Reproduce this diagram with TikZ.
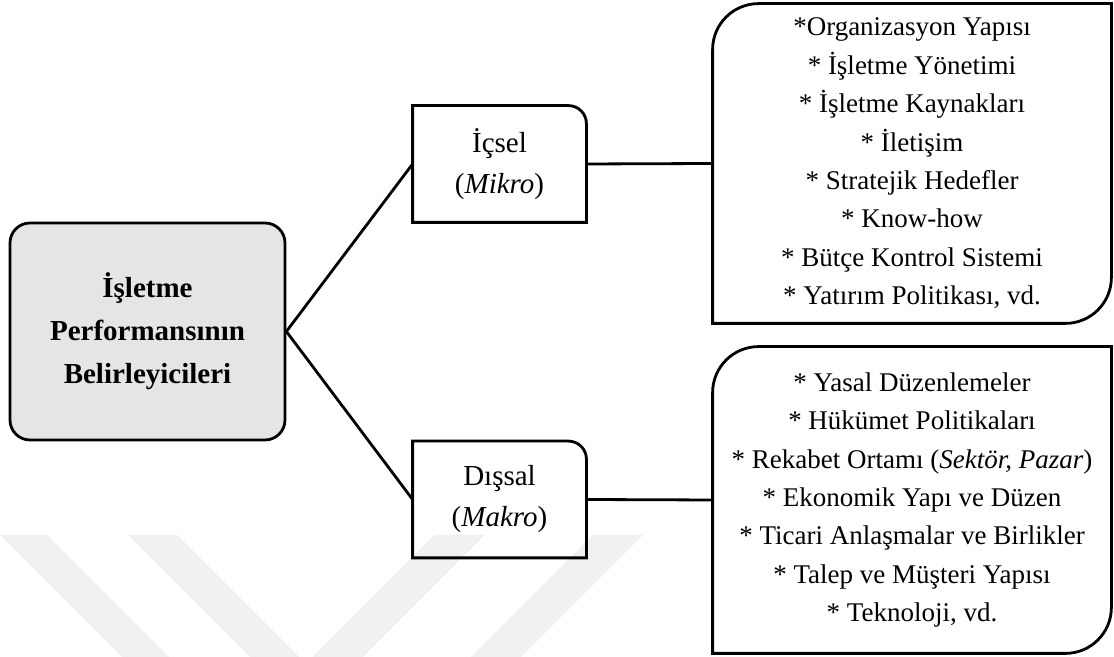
\documentclass[tikz,border=0pt]{standalone}
\usepackage{fontspec}
\setmainfont{Liberation Serif}

\tikzstyle{frame}=[draw=black,line width=1.4pt]
\tikzstyle{wmark}=[fill=black!6]
\tikzstyle{mainbox}=[rectangle,draw=black,line width=1.4pt,rounded corners=10pt,fill=black!10,align=center,font=\fontsize{14.5}{21.5}\selectfont\bfseries,minimum width=137.5pt,minimum height=108.5pt]
\tikzstyle{levelbox}=[rectangle,align=center,font=\fontsize{14.5}{20.5}\selectfont,minimum width=86.5pt,minimum height=58pt,inner sep=0pt]
\tikzstyle{listbox}=[rectangle,align=center,font=\fontsize{13.5}{19.2}\selectfont,minimum width=199pt,inner sep=0pt]

\begin{document}
\begin{tikzpicture}[x=0.5pt,y=0.5pt]
	\useasboundingbox (0,0) rectangle (1114,657);

	% faint background logo
	\fill[wmark] (0,122) -- (47,122) -- (169,0) -- (122,0) -- cycle;
	\fill[wmark] (128,122) -- (177,122) -- (299,0) -- (250,0) -- cycle;
	\fill[wmark] (313,0) -- (363,0) -- (485,122) -- (435,122) -- cycle;
	\fill[wmark] (471,0) -- (521,0) -- (643,122) -- (593,122) -- cycle;

	\node[mainbox] (main) at (147.5,325.5) {İşletme\\Performansının\\Belirleyicileri};

	\node[levelbox] (icsel) at (499.5,493) {İçsel\\(\textit{Mikro})};
	\node[levelbox] (dissal) at (499.5,157.5) {Dışsal\\(\textit{Makro})};

	\node[listbox,minimum height=159.5pt] (mikro) at (912,493.5) {*Organizasyon Yapısı\\* İşletme Yönetimi\\* İşletme Kaynakları\\* İletişim\\* Stratejik Hedefler\\* Know-how\\* Bütçe Kontrol Sistemi\\* Yatırım Politikası, vd.};
	\node[listbox,minimum height=153pt] (makro) at (912,157) {* Yasal Düzenlemeler\\* Hükümet Politikaları\\* Rekabet Ortamı (\textit{Sektör, Pazar})\\* Ekonomik Yapı ve Düzen\\* Ticari Anlaşmalar ve Birlikler\\* Talep ve Müşteri Yapısı\\* Teknoloji, vd.};

	% frames
	\draw[frame] (icsel.south west) -- (icsel.north west) -- ([xshift=-9pt]icsel.north east) arc[start angle=90,end angle=0,radius=9pt] -- (icsel.south east) -- cycle;
	\draw[frame] (dissal.south west) -- (dissal.north west) -- ([xshift=-9pt]dissal.north east) arc[start angle=90,end angle=0,radius=9pt] -- (dissal.south east) -- cycle;
	\draw[frame] ([yshift=-23pt]mikro.north west) arc[start angle=180,end angle=90,radius=23pt] -- (mikro.north east) -- ([yshift=23pt]mikro.south east) arc[start angle=0,end angle=-90,radius=23pt] -- (mikro.south west) -- cycle;
	\draw[frame] ([yshift=-23pt]makro.north west) arc[start angle=180,end angle=90,radius=23pt] -- (makro.north east) -- ([yshift=23pt]makro.south east) arc[start angle=0,end angle=-90,radius=23pt] -- (makro.south west) -- cycle;

	% links
	\draw[frame] (main.east) -- (icsel.west);
	\draw[frame] (main.east) -- (dissal.west);
	\draw[frame] (icsel.east) -- (mikro.west);
	\draw[frame] (dissal.east) -- (makro.west);
\end{tikzpicture}
\end{document}
